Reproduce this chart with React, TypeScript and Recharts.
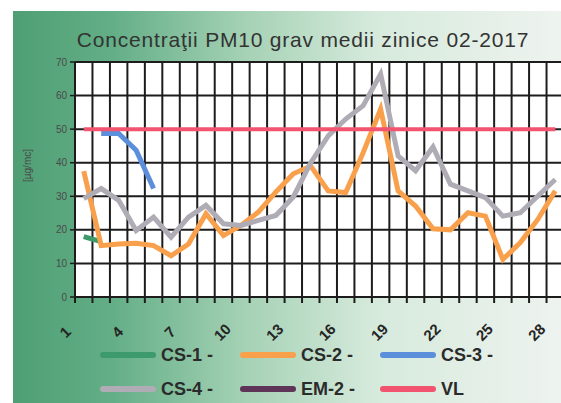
import { LineChart, Line, XAxis, YAxis, CartesianGrid, Legend } from "recharts";

const DAYS = [1, 2, 3, 4, 5, 6, 7, 8, 9, 10, 11, 12, 13, 14, 15, 16, 17, 18, 19, 20, 21, 22, 23, 24, 25, 26, 27, 28];
const LABEL_DAYS = [1, 4, 7, 10, 13, 16, 19, 22, 25, 28];
const DAY_EDGES = [0.5, 1.5, 2.5, 3.5, 4.5, 5.5, 6.5, 7.5, 8.5, 9.5, 10.5, 11.5, 12.5, 13.5, 14.5, 15.5, 16.5, 17.5, 18.5, 19.5, 20.5, 21.5, 22.5, 23.5, 24.5, 25.5, 26.5, 27.5, 28.5];
const Y_TICKS = [0, 10, 20, 30, 40, 50, 60, 70];

// µg/mc, one value per day of February 2017 (null = no measurement)
const CS1 = [18, 16.5, null, null, null, null, null, null, null, null, null, null, null, null, null, null, null, null, null, null, null, null, null, null, null, null, null, null];
const CS2 = [37.5, 15.3, 15.8, 16, 15.3, 12.3, 15.8, 24.8, 18.3, 21.3, 25.3, 31.3, 36.7, 39, 31.6, 31.1, 43, 56, 31.6, 27.1, 20.3, 20, 25.1, 24.1, 11.2, 16.2, 23.1, 31.6];
const CS3 = [null, 48.7, 48.7, 43.7, 32.3, null, null, null, null, null, null, null, null, null, null, null, null, null, null, null, null, null, null, null, null, null, null, null];
const CS4 = [29.3, 32.3, 28.8, 19.8, 23.8, 17.8, 23.8, 27.3, 21.8, 21.3, 22.8, 24.3, 29.8, 40, 48, 53, 57, 66.4, 42, 37.6, 44.7, 33.6, 31.6, 29.6, 24.1, 25.1, 30.1, 35];
const EM2 = [null, null, null, null, null, null, null, null, null, null, null, null, null, null, null, null, null, null, null, null, null, null, null, null, null, null, null, null];
const VL = [50, 50, 50, 50, 50, 50, 50, 50, 50, 50, 50, 50, 50, 50, 50, 50, 50, 50, 50, 50, 50, 50, 50, 50, 50, 50, 50, 50];

const rows = DAYS.map((day, i) => ({
  day,
  cs1: CS1[i],
  cs2: CS2[i],
  cs3: CS3[i],
  cs4: CS4[i],
  em2: EM2[i],
  vl: VL[i],
}));

const FONT = "Arial, 'Liberation Sans', sans-serif";
const LEGEND_COLS = [100, 240, 380];

// ticks sit on the day edges (grid lines); the label belongs to the day just right of the edge
function DayTick({ x, y, payload }: any) {
  const day = payload.value + 0.5;
  if (!LABEL_DAYS.includes(day)) return <g />;
  const cx = x - 10;
  const cy = y + 29;
  return (
    <text
      x={cx}
      y={cy}
      transform={`rotate(-45, ${cx}, ${cy})`}
      textAnchor="middle"
      dominantBaseline="central"
      fontSize={15}
      fontWeight={700}
      fill="#252525"
      fontFamily={FONT}
    >
      {day}
    </text>
  );
}

function LegendBox({ payload }: any) {
  return (
    <div style={{ position: "relative", height: 60, width: 570 }}>
      {(payload ?? []).map((item: any, i: number) => (
        <div
          key={item.value}
          style={{
            position: "absolute",
            left: LEGEND_COLS[i % 3],
            top: Math.floor(i / 3) * 34,
            height: 24,
            display: "flex",
            alignItems: "center",
            whiteSpace: "nowrap",
          }}
        >
          <span style={{ display: "inline-block", width: 56, height: 6, borderRadius: 3, background: item.color }} />
          <span style={{ marginLeft: 5, fontWeight: 700, fontSize: 18, color: "#2b2b2b", fontFamily: FONT }}>
            {item.value}
          </span>
        </div>
      ))}
    </div>
  );
}

export default function App() {
  return (
    <div
      style={{
        position: "absolute",
        left: 0,
        top: 0,
        width: 561,
        height: 403,
        overflow: "hidden",
        background: "#fff",
        fontFamily: FONT,
      }}
    >
      <div
        style={{
          position: "absolute",
          left: 13,
          top: 11,
          right: 0,
          bottom: 0,
          background: "linear-gradient(to right, #4f9f74 0%, #63ae86 18%, #a4d1b4 42%, #d6eadc 66%, #eef3ef 100%)",
        }}
      />
      <div
        style={{
          position: "absolute",
          left: 0,
          width: 606,
          top: 28,
          textAlign: "center",
          fontSize: 21,
          letterSpacing: 0.8,
          color: "#333",
          whiteSpace: "nowrap",
        }}
      >
        Concentraţii PM10 grav medii zinice 02-2017
      </div>
      <div style={{ position: "absolute", left: 0, top: 0 }}>
        <LineChart width={570} height={403} data={rows} margin={{ top: 62, right: 6, left: 15, bottom: 0 }}>
          <CartesianGrid stroke="#1c1c1c" strokeWidth={2} fill="#fff" />
          <XAxis
            dataKey="day"
            type="number"
            domain={[0.5, 28.5]}
            ticks={DAY_EDGES}
            interval={0}
            allowDataOverflow
            height={46}
            tickSize={6}
            tickMargin={0}
            tickLine={{ stroke: "#1c1c1c", strokeWidth: 2 }}
            axisLine={{ stroke: "#1c1c1c", strokeWidth: 2 }}
            tick={<DayTick />}
          />
          <YAxis
            width={60}
            domain={[0, 70]}
            ticks={Y_TICKS}
            interval={0}
            tickSize={5}
            tickMargin={3}
            tick={{ fontSize: 10, fill: "#4a4a4a", fontFamily: FONT }}
            tickLine={{ stroke: "#1c1c1c", strokeWidth: 1.5 }}
            axisLine={{ stroke: "#1c1c1c", strokeWidth: 2 }}
            label={{
              content: ({ viewBox }: any) => {
                const lx = viewBox.x + 12;
                const ly = viewBox.y + viewBox.height / 2 - 14;
                return (
                  <text
                    x={lx}
                    y={ly}
                    transform={`rotate(-90, ${lx}, ${ly})`}
                    textAnchor="middle"
                    dominantBaseline="central"
                    fontSize={10}
                    fill="#4a4a4a"
                    fontFamily={FONT}
                  >
                    [µg/mc]
                  </text>
                );
              },
            }}
          />
          <Legend verticalAlign="bottom" content={<LegendBox />} wrapperStyle={{ left: 0, width: 570 }} />
          <Line dataKey="cs1" name="CS-1 -" stroke="#3d9a6b" strokeWidth={5} dot={false} activeDot={false} isAnimationActive={false} />
          <Line dataKey="cs2" name="CS-2 -" stroke="#f8a04c" strokeWidth={5} dot={false} activeDot={false} isAnimationActive={false} />
          <Line dataKey="cs3" name="CS-3 -" stroke="#5b8edb" strokeWidth={5} dot={false} activeDot={false} isAnimationActive={false} />
          <Line dataKey="cs4" name="CS-4 -" stroke="#b0acb6" strokeWidth={5} dot={false} activeDot={false} isAnimationActive={false} />
          <Line dataKey="em2" name="EM-2 -" stroke="#5e3559" strokeWidth={5} dot={false} activeDot={false} isAnimationActive={false} />
          <Line dataKey="vl" name="VL" stroke="#f2536f" strokeWidth={4} dot={false} activeDot={false} isAnimationActive={false} />
        </LineChart>
      </div>
    </div>
  );
}
